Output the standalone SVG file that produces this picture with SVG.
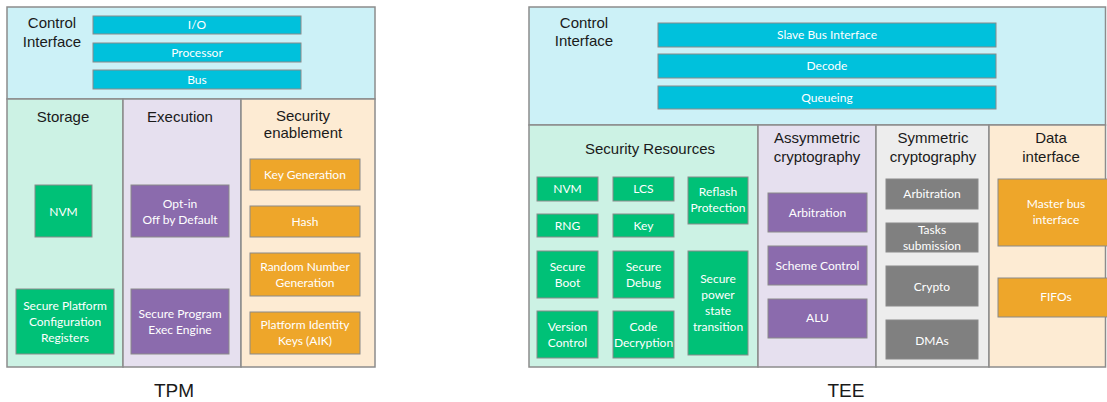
<svg xmlns="http://www.w3.org/2000/svg" width="1107" height="402" viewBox="0 0 1107 402">
<style>
.pane{stroke:#8c8c8c;stroke-width:1.5}
.ci{fill:#ccf1f7}.st{fill:#ccf2e4}.ex{fill:#e6e0ef}.se{fill:#fdebd3}.sy{fill:#ededed}
.box{stroke:#8a8a8a;stroke-width:1}
.cy{fill:#00c1dc}.gr{fill:#00c177}.pu{fill:#8b6bad}.or{fill:#eea62a}.gy{fill:#808080}
.h{font-family:"Liberation Sans",Arial,sans-serif;font-size:15px;fill:#1a1a1a;text-anchor:middle}
.t{font-family:Lato,"Open Sans",sans-serif;font-size:12px;fill:#ffffff;text-anchor:middle}
.cap{font-family:"Liberation Sans",Arial,sans-serif;font-size:19px;fill:#1a1a1a;text-anchor:middle}
</style>

<g id="tpm">
  <rect class="pane ci" x="7" y="7" width="368" height="92"/>
  <rect class="pane st" x="7" y="99" width="116" height="268"/>
  <rect class="pane ex" x="123" y="99" width="118" height="268"/>
  <rect class="pane se" x="241" y="99" width="134" height="268"/>
  <text class="h" x="52" y="28">Control</text>
  <text class="h" x="52" y="47">Interface</text>
  <text class="h" x="63" y="122">Storage</text>
  <text class="h" x="180" y="122">Execution</text>
  <text class="h" x="303" y="121">Security</text>
  <text class="h" x="303" y="138">enablement</text>
  <text class="cap" x="174" y="397">TPM</text>
</g>

<g id="tpm-io"><rect class="box cy" x="93" y="16" width="208" height="18"/><text class="t" x="197" y="29">I/O</text></g>
<g id="tpm-processor"><rect class="box cy" x="93" y="43" width="208" height="19"/><text class="t" x="197" y="57">Processor</text></g>
<g id="tpm-bus"><rect class="box cy" x="93" y="70" width="208" height="19"/><text class="t" x="197" y="84">Bus</text></g>

<g id="tpm-nvm"><rect class="box gr" x="35" y="185" width="57" height="52"/><text class="t" x="63.5" y="216">NVM</text></g>
<g id="tpm-spcr"><rect class="box gr" x="16" y="289" width="98" height="65"/><text class="t" x="65" y="310">Secure Platform</text><text class="t" x="65" y="326">Configuration</text><text class="t" x="65" y="342">Registers</text></g>

<g id="tpm-optin"><rect class="box pu" x="131" y="185" width="98" height="52"/><text class="t" x="180" y="208">Opt-in</text><text class="t" x="180" y="224">Off by Default</text></g>
<g id="tpm-spee"><rect class="box pu" x="131" y="289" width="98" height="65"/><text class="t" x="180" y="318">Secure Program</text><text class="t" x="180" y="334">Exec Engine</text></g>

<g id="tpm-keygen"><rect class="box or" x="250" y="159" width="110" height="31"/><text class="t" x="305" y="179">Key Generation</text></g>
<g id="tpm-hash"><rect class="box or" x="250" y="206" width="110" height="31"/><text class="t" x="305" y="226">Hash</text></g>
<g id="tpm-rng"><rect class="box or" x="250" y="253" width="110" height="43"/><text class="t" x="305" y="271">Random Number</text><text class="t" x="305" y="287">Generation</text></g>
<g id="tpm-aik"><rect class="box or" x="250" y="312" width="110" height="42"/><text class="t" x="305" y="329">Platform Identity</text><text class="t" x="305" y="345">Keys (AIK)</text></g>

<g id="tee">
  <rect class="pane ci" x="529" y="7" width="576.5" height="118"/>
  <rect class="pane st" x="529" y="125" width="229" height="242"/>
  <rect class="pane ex" x="758" y="125" width="118" height="242"/>
  <rect class="pane sy" x="876" y="125" width="113" height="242"/>
  <rect class="pane se" x="989" y="125" width="116.5" height="242"/>
  <text class="h" x="584" y="28">Control</text>
  <text class="h" x="584" y="46">Interface</text>
  <text class="h" x="650" y="154">Security Resources</text>
  <text class="h" x="817" y="143">Assymmetric</text>
  <text class="h" x="817" y="162">cryptography</text>
  <text class="h" x="933" y="143">Symmetric</text>
  <text class="h" x="933" y="162">cryptography</text>
  <text class="h" x="1051" y="143">Data</text>
  <text class="h" x="1051" y="162">interface</text>
  <text class="cap" x="846" y="397">TEE</text>
</g>

<g id="tee-slave"><rect class="box cy" x="658" y="23" width="338" height="24"/><text class="t" x="827" y="39">Slave Bus Interface</text></g>
<g id="tee-decode"><rect class="box cy" x="658" y="54" width="338" height="24"/><text class="t" x="827" y="70">Decode</text></g>
<g id="tee-queueing"><rect class="box cy" x="658" y="86" width="338" height="23"/><text class="t" x="827" y="102">Queueing</text></g>

<g id="tee-nvm"><rect class="box gr" x="537" y="177" width="61" height="24"/><text class="t" x="567.5" y="193">NVM</text></g>
<g id="tee-lcs"><rect class="box gr" x="613" y="177" width="61" height="24"/><text class="t" x="643.5" y="193">LCS</text></g>
<g id="tee-reflash"><rect class="box gr" x="688" y="177" width="60" height="47"/><text class="t" x="718" y="196">Reflash</text><text class="t" x="718" y="212">Protection</text></g>
<g id="tee-rng"><rect class="box gr" x="537" y="214" width="61" height="23"/><text class="t" x="567.5" y="230">RNG</text></g>
<g id="tee-key"><rect class="box gr" x="613" y="214" width="61" height="23"/><text class="t" x="643.5" y="230">Key</text></g>
<g id="tee-sboot"><rect class="box gr" x="537" y="251" width="61" height="47"/><text class="t" x="567.5" y="271">Secure</text><text class="t" x="567.5" y="287">Boot</text></g>
<g id="tee-sdebug"><rect class="box gr" x="613" y="251" width="61" height="47"/><text class="t" x="643.5" y="271">Secure</text><text class="t" x="643.5" y="287">Debug</text></g>
<g id="tee-spst"><rect class="box gr" x="688" y="251" width="60" height="104"/><text class="t" x="718" y="283">Secure</text><text class="t" x="718" y="299">power</text><text class="t" x="718" y="315">state</text><text class="t" x="718" y="331">transition</text></g>
<g id="tee-version"><rect class="box gr" x="537" y="311" width="61" height="47"/><text class="t" x="567.5" y="331">Version</text><text class="t" x="567.5" y="347">Control</text></g>
<g id="tee-codedec"><rect class="box gr" x="613" y="311" width="61" height="47"/><text class="t" x="643.5" y="331">Code</text><text class="t" x="643.5" y="347">Decryption</text></g>

<g id="tee-a-arb"><rect class="box pu" x="768" y="193" width="99" height="39"/><text class="t" x="817.5" y="217">Arbitration</text></g>
<g id="tee-a-scheme"><rect class="box pu" x="768" y="246" width="99" height="39"/><text class="t" x="817.5" y="270">Scheme Control</text></g>
<g id="tee-a-alu"><rect class="box pu" x="768" y="299" width="99" height="39"/><text class="t" x="817.5" y="322">ALU</text></g>

<g id="tee-s-arb"><rect class="box gy" x="886" y="179" width="92" height="30"/><text class="t" x="932" y="198">Arbitration</text></g>
<g id="tee-s-tasks"><rect class="box gy" x="886" y="223" width="92" height="29"/><text class="t" x="932" y="234">Tasks</text><text class="t" x="932" y="250">submission</text></g>
<g id="tee-s-crypto"><rect class="box gy" x="886" y="266" width="92" height="40"/><text class="t" x="932" y="291">Crypto</text></g>
<g id="tee-s-dma"><rect class="box gy" x="886" y="320" width="92" height="39"/><text class="t" x="932" y="345">DMAs</text></g>

<g id="tee-master"><rect class="box or" x="998" y="179" width="115" height="67"/><text class="t" x="1056" y="208">Master bus</text><text class="t" x="1056" y="224">interface</text></g>
<g id="tee-fifo"><rect class="box or" x="998" y="278" width="115" height="39"/><text class="t" x="1056" y="301">FIFOs</text></g>
</svg>
